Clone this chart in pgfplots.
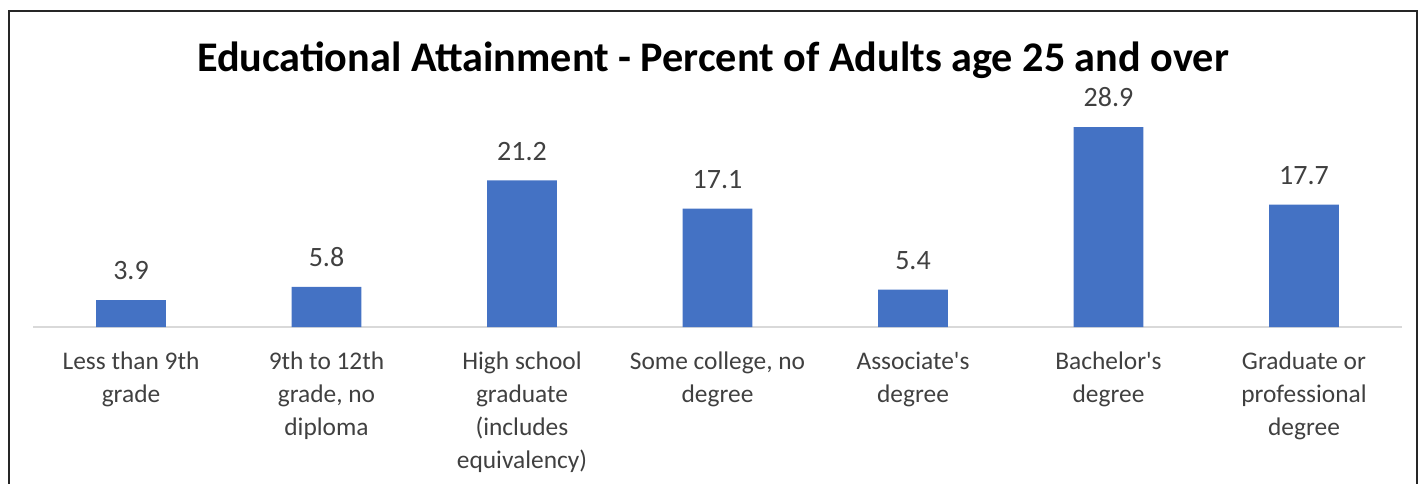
\documentclass[border=0pt]{standalone}
\usepackage{fontspec}
\setmainfont{Carlito}
\usepackage{pgfplots}
\pgfplotsset{compat=1.18}
\definecolor{barblue}{HTML}{4472C4}
\definecolor{lbl}{HTML}{404040}
\begin{document}
\begin{tikzpicture}
\begin{axis}[
  at={(16.625pt,78pt)}, anchor=south west,
  width=684.25pt, height=110.7pt, scale only axis,
  xmin=-0.5, xmax=6.5, ymin=0, ymax=32,
  axis x line*=bottom, axis y line=none,
  x axis line style={draw=black!15, line width=0.8pt, -},
  major tick length=0pt,
  xtick={0,1,2,3,4,5,6},
  xticklabels={{Less than 9th\\grade},{9th to 12th\\grade, no\\diploma},{High school\\graduate\\(includes\\equivalency)},{Some college, no\\degree},{Associate\textquotesingle s\\degree},{Bachelor\textquotesingle s\\degree},{Graduate or\\professional\\degree}},
  xticklabel style={align=center, font=\fontsize{12.7}{16.5}\selectfont, text=lbl, yshift=-9pt},
  ybar, bar width=0.358,
  point meta=explicit symbolic,
  nodes near coords,
  every node near coord/.append style={font=\fontsize{14}{16}\selectfont, text=lbl, yshift=6.5pt},
]
\addplot[fill=barblue, draw=none] coordinates {
  (0,3.9) [3.9]
  (1,5.8) [5.8]
  (2,21.2) [21.2]
  (3,17.1) [17.1]
  (4,5.4) [5.4]
  (5,28.9) [28.9]
  (6,17.7) [17.7]
};
\end{axis}
\node[anchor=base, font=\fontsize{21.1}{24}\selectfont\bfseries, text=black, inner sep=0pt] at (356.5pt,205.5pt) {Educational Attainment - Percent of Adults age 25 and over};
\draw[black!85, line width=0.9pt] (4.5pt,-5pt) -- (4.5pt,236pt) -- (708.5pt,236pt) -- (708.5pt,-5pt);
\pgfresetboundingbox
\useasboundingbox (0,0) rectangle (713pt,241.5pt);
\end{tikzpicture}
\end{document}
